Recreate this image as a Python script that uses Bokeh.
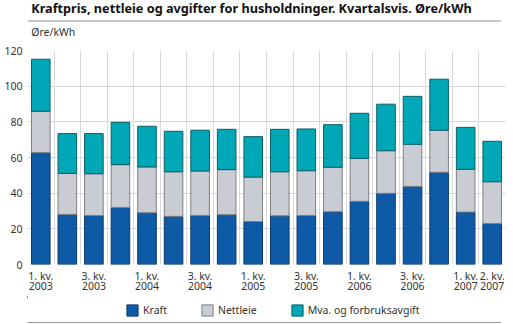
from bokeh.plotting import figure
from bokeh.layouts import column
from bokeh.models import (FixedTicker, Label, Legend, LegendItem,
                          ColumnDataSource, Range1d, LinearAxis)
from bokeh.embed import file_html
from bokeh.resources import INLINE

# ---- data ----
title_text = "Kraftpris, nettleie og avgifter for husholdninger. Kvartalsvis. Øre/kWh"
unit_text = "Øre/kWh"
quarters = ["1. kv. 2003", "2. kv. 2003", "3. kv. 2003", "4. kv. 2003",
            "1. kv. 2004", "2. kv. 2004", "3. kv. 2004", "4. kv. 2004",
            "1. kv. 2005", "2. kv. 2005", "3. kv. 2005", "4. kv. 2005",
            "1. kv. 2006", "2. kv. 2006", "3. kv. 2006", "4. kv. 2006",
            "1. kv. 2007", "2. kv. 2007"]
tick_quarter = ["1. kv.", "", "3. kv.", "", "1. kv.", "", "3. kv.", "",
                "1. kv.", "", "3. kv.", "", "1. kv.", "", "3. kv.", "",
                "1. kv.", "2. kv."]
tick_year = ["2003", "", "2003", "", "2004", "", "2004", "",
             "2005", "", "2005", "", "2006", "", "2006", "",
             "2007", "2007"]
kraft = [62.7, 28.1, 27.5, 32.0, 29.0, 27.0, 27.5, 27.9, 24.1,
         27.3, 27.5, 29.6, 35.4, 39.9, 43.8, 51.7, 29.4, 23.0]
nettleie = [23.2, 23.0, 23.4, 24.0, 25.7, 25.0, 24.9, 25.3, 24.9,
            24.7, 25.1, 24.9, 24.1, 23.9, 23.6, 23.6, 24.0, 23.4]
mva = [29.2, 22.3, 22.5, 23.7, 22.8, 22.7, 22.9, 22.6, 22.7,
       23.8, 23.4, 23.9, 25.3, 26.1, 26.9, 28.6, 23.5, 22.7]
series_names = ["Kraft", "Nettleie", "Mva. og forbruksavgift"]
y_ticks = [0, 20, 40, 60, 80, 100, 120]

colors = ["#0f5aa6", "#c9ccd3", "#00a7b6"]
outline = ["#0b3a6a", "#7d7f84", "#0a5e66"]
FONT = "Noto Sans"
W = 513


def bare(height):
    f = figure(width=W, height=height, output_backend="svg", toolbar_location=None,
               x_range=Range1d(0, W), y_range=Range1d(height, 0),
               x_axis_location=None, y_axis_location=None, min_border=0,
               title=None)
    f.grid.visible = False
    f.outline_line_color = None
    f.background_fill_color = "white"
    f.border_fill_color = "white"
    return f


# ---- header (title, unit, rule) ----
top = bare(43)
top.segment(x0=[0], y0=[20.5], x1=[508], y1=[20.5], line_color="#8f8f8f", line_width=1)
top.add_layout(Label(x=4, y=7, text=title_text, text_font=FONT,
                     text_font_size="12.7px", text_font_style="bold",
                     text_color="#111111", text_baseline="middle", text_align="left"))
top.add_layout(Label(x=4, y=31.5, text=unit_text, text_font=FONT,
                     text_font_size="10.5px", text_color="#333333",
                     text_baseline="middle", text_align="left"))

# ---- main chart ----
xs = list(range(1, len(quarters) + 1))
src = ColumnDataSource(dict(x=xs, quarter=quarters, kraft=kraft,
                            nettleie=nettleie, mva=mva))

p = figure(frame_width=478, frame_height=214, output_backend="svg",
           toolbar_location=None,
           x_range=Range1d(0.5, len(quarters) + 0.5), y_range=Range1d(0, 120),
           min_border_left=27, min_border_right=8, min_border_top=7,
           min_border_bottom=32, title=None)
p.outline_line_color = None
p.background_fill_color = "white"
p.border_fill_color = "white"

renderers = p.vbar_stack(["kraft", "nettleie", "mva"], x="x", width=0.7,
                         source=src, fill_color=colors, line_color=outline,
                         line_width=1)

p.xgrid.ticker = FixedTicker(ticks=[x - 0.5 for x in xs] + [xs[-1] + 0.5])
p.ygrid.ticker = FixedTicker(ticks=y_ticks)
for g in (p.xgrid, p.ygrid):
    g.grid_line_color = "#d6d8de"
    g.grid_line_width = 1

labeled = [x for x, t in zip(xs, tick_quarter) if t]
p.yaxis.ticker = FixedTicker(ticks=y_ticks)
p.xaxis.ticker = FixedTicker(ticks=labeled)
p.xaxis.major_label_overrides = {x: t for x, t in zip(xs, tick_quarter) if t}
year_axis = LinearAxis(ticker=FixedTicker(ticks=labeled),
                       major_label_overrides={x: t for x, t in zip(xs, tick_year) if t})
p.add_layout(year_axis, "below")
for ax in (p.xaxis + p.yaxis):
    ax.axis_line_color = None
    ax.major_tick_line_color = None
    ax.minor_tick_line_color = None
    ax.major_tick_in = 0
    ax.major_tick_out = 0
    ax.major_label_text_font = FONT
    ax.major_label_text_font_size = "10.5px"
    ax.major_label_text_color = "#333333"
p.yaxis.major_label_standoff = 5
p.xaxis[0].major_label_standoff = 4
year_axis.major_label_standoff = -4

# ---- legend strip (legend proxies sit outside the visible range) ----
bottom = bare(28)
proxies = [bottom.vbar(x=[-1000], top=[1], width=1, fill_color=c, line_color=o)
           for c, o in zip(colors, outline)]
legend = Legend(items=[LegendItem(label=n, renderers=[r])
                       for n, r in zip(series_names, proxies)],
                orientation="horizontal", location=(98, 7),
                label_text_font=FONT, label_text_font_size="10.5px",
                label_text_color="#333333", glyph_width=14, glyph_height=14,
                label_height=14, label_standoff=4, spacing=33, padding=0,
                margin=0, border_line_color=None, background_fill_alpha=0)
bottom.add_layout(legend, "center")
bottom.segment(x0=[0], y0=[26], x1=[508], y1=[26], line_color="#9a9a9a", line_width=1)

layout = column(top, p, bottom, spacing=0)
open("out.html", "w").write(file_html(layout, INLINE))
